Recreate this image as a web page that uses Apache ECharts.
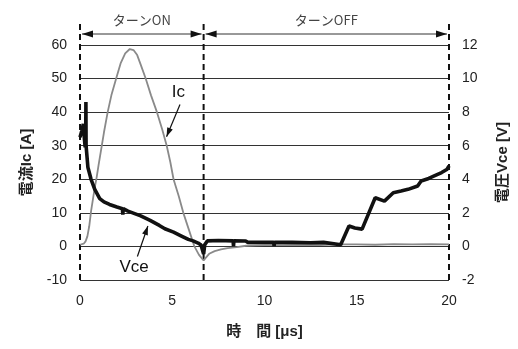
<!DOCTYPE html>
<html><head><meta charset="utf-8">
<script src="https://cdn.jsdelivr.net/npm/echarts@6/dist/echarts.min.js"></script>
<style>html,body{margin:0;padding:0;background:#fff}#c{width:518px;height:349px}</style>
</head><body><div id="c"></div>
<script>
// time [µs]
const icTime = [0,0.1,0.2,0.3,0.4,0.5,0.6,0.7,0.8,0.9,1.0,1.15,1.3,1.5,1.7,1.96,2.2,2.45,2.7,2.9,3.1,3.3,3.56,3.85,4.17,4.45,4.7,4.9,5.07,5.35,5.6,5.9,6.2,6.45,6.7,6.8,7.0,7.3,7.64,8,8.5,9,9.5,10,11,12,13,14,15,16,17,18,19,20];
// Ic [A]
const icValues = [0.5,1,0.8,1.5,3,6,10.5,14,17.5,20.5,24,29,34,40,45,50,54.5,57.5,58.8,58.5,57,54,50,45,40,35,30,25,20,15,10,5,0,-2.5,-4.2,-3.5,-2.2,-1.4,-0.9,-0.5,-0.2,0.2,0.3,0.4,0.4,0.5,0.4,0.6,0.6,0.5,0.7,0.6,0.7,0.6];
const vceTime = [0,0.1,0.18,0.24,0.28,0.31,0.32,0.33,0.36,0.43,0.6,0.8,1.07,1.3,1.6,2.0,2.3,2.32,2.34,2.6,3.29,3.8,4.3,4.6,5.07,5.5,5.87,6.13,6.4,6.56,6.7,6.76,6.9,7.5,8.3,8.32,8.34,8.98,9.1,10,10.5,10.52,10.54,11.5,12.5,13.2,14.13,14.58,14.9,15.29,16.0,16.5,16.98,17.4,17.78,18.3,18.49,18.9,19.2,19.6,19.9,20];
// Vce [V]
const vceValues = [6.5,6.9,7.3,6.4,5.9,6.3,8.6,6.0,5.6,4.7,4.0,3.4,2.85,2.65,2.5,2.35,2.25,1.9,2.25,2.1,1.82,1.55,1.25,1.05,0.85,0.62,0.42,0.33,0.2,0.08,-0.45,0.1,0.33,0.35,0.33,0.0,0.33,0.32,0.24,0.24,0.24,0.02,0.24,0.24,0.22,0.24,0.1,1.22,1.1,1.03,2.9,2.7,3.2,3.3,3.4,3.6,3.9,4.05,4.2,4.4,4.6,4.8];
const xTicks = [0,5,10,15,20];
const phaseBounds = [0,6.7,20];
const phaseLabels = ['ターンON','ターンOFF'];

const chart = echarts.init(document.getElementById('c'));
const FONT = '"Liberation Sans", Arial, sans-serif';
const JFONT = '"Liberation Sans","Noto Sans CJK JP", sans-serif';
chart.setOption({
  animation:false,
  grid:{left:80,right:63,top:45,bottom:69},
  xAxis:{type:'value',min:0,max:20,interval:5,
    name:'時　間 [μs]',nameLocation:'middle',nameGap:44,
    nameTextStyle:{fontFamily:JFONT,fontSize:15,fontWeight:'bold',color:'#222'},
    axisLine:{show:false},axisTick:{show:false},splitLine:{show:false},
    axisLabel:{fontFamily:FONT,fontSize:14,color:'#222',margin:14}},
  yAxis:[{type:'value',min:-10,max:60,interval:10,
    name:'電流Ic [A]',nameLocation:'middle',nameGap:46,nameRotate:90,
    nameTextStyle:{fontFamily:JFONT,fontSize:15,fontWeight:'bold',color:'#222'},
    axisLine:{show:false},axisTick:{show:false},
    splitLine:{show:true,lineStyle:{color:'#333',width:1}},
    axisLabel:{fontFamily:FONT,fontSize:14,color:'#222',margin:13}},
   {type:'value',min:-2,max:12,interval:2,position:'right',
    name:'電圧Vce [V]',nameLocation:'middle',nameGap:46,nameRotate:90,
    nameTextStyle:{fontFamily:JFONT,fontSize:15,fontWeight:'bold',color:'#222'},
    axisLine:{show:false},axisTick:{show:false},splitLine:{show:false},
    axisLabel:{fontFamily:FONT,fontSize:14,color:'#222',margin:13}}],
  series:[
    {name:'Ic',type:'line',xAxisIndex:0,yAxisIndex:0,showSymbol:false,
     data:icTime.map((t,i)=>[t,icValues[i]]),lineStyle:{color:'#8a8a8a',width:1.8}},
    {name:'Vce',type:'line',xAxisIndex:0,yAxisIndex:1,showSymbol:false,
     data:vceTime.map((t,i)=>[t,vceValues[i]]),lineStyle:{color:'#111',width:3.6}}
  ]
});

function px(t,v){return chart.convertToPixel({xAxisIndex:0,yAxisIndex:0},[t,v]);}
const g = [];
const topY = 22, arrowY = 34;
phaseBounds.forEach(t=>{
  const p = px(t,-10);
  g.push({type:'line',shape:{x1:p[0],y1:p[1],x2:p[0],y2:topY},style:{stroke:'#111',lineWidth:2,lineDash:[6,4]}});
});
function head(x,y,dir){
  return {type:'polygon',shape:{points:[[x,y],[x-dir*11,y-3.5],[x-dir*11,y+3.5]]},style:{fill:'#111'}};
}
for(let i=0;i<2;i++){
  const a = px(phaseBounds[i],0)[0]+2, b = px(phaseBounds[i+1],0)[0]-2;
  g.push({type:'line',shape:{x1:a,y1:arrowY,x2:b,y2:arrowY},style:{stroke:'#333',lineWidth:1}});
  g.push(head(a,arrowY,-1)); g.push(head(b,arrowY,1));
  g.push({type:'text',x:(a+b)/2,y:20,style:{text:phaseLabels[i],fill:'#444',font:'13px "Noto Sans CJK JP", sans-serif',align:'center',verticalAlign:'middle'}});
}
function annot(label,lt,lv,ft,fv,tt,tv){
  const L=px(lt,lv), F=px(ft,fv), T=px(tt,tv);
  g.push({type:'text',x:L[0],y:L[1],style:{text:label,fill:'#111',font:'17px '+FONT,align:'center',verticalAlign:'middle'}});
  g.push({type:'line',shape:{x1:F[0],y1:F[1],x2:T[0],y2:T[1]},style:{stroke:'#111',lineWidth:1.2}});
  const ang=Math.atan2(T[1]-F[1],T[0]-F[0]);
  const l=9,w=3;
  const bx=T[0]-l*Math.cos(ang), by=T[1]-l*Math.sin(ang);
  g.push({type:'polygon',shape:{points:[[T[0],T[1]],[bx+w*Math.sin(ang),by-w*Math.cos(ang)],[bx-w*Math.sin(ang),by+w*Math.cos(ang)]]},style:{fill:'#111'}});
}
annot('Ic',5.33,46,5.42,42.3,4.69,32.7);
annot('Vce',2.93,-6.2,3.11,-3.0,3.68,6.1);
chart.setOption({graphic:g});
</script></body></html>
